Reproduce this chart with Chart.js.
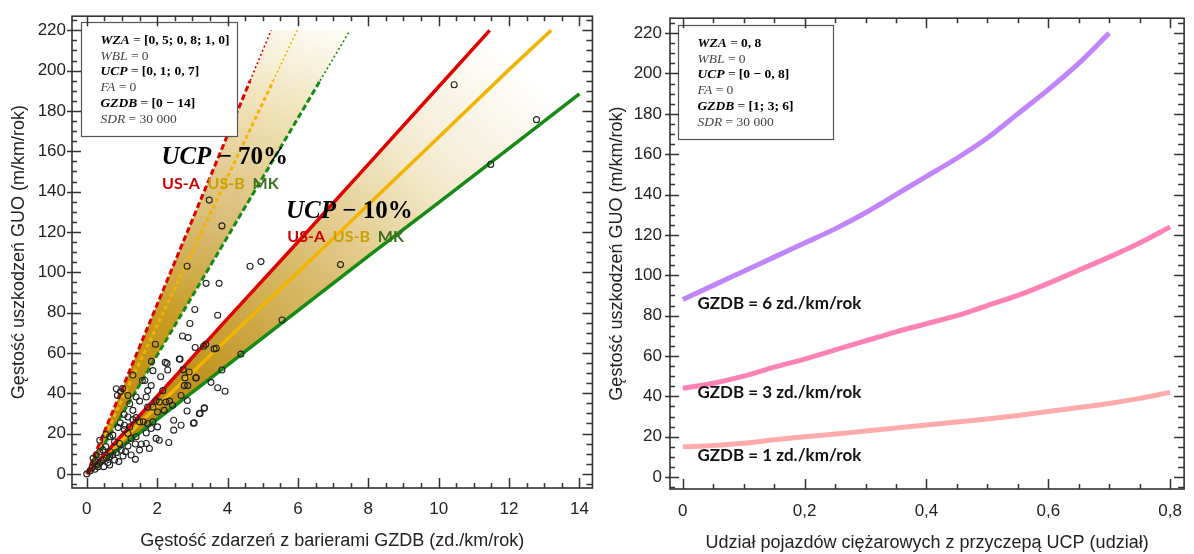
<!DOCTYPE html>
<html lang="pl">
<head>
<meta charset="UTF-8">
<title>GUO vs GZDB i UCP</title>
<script src="https://cdn.jsdelivr.net/npm/chart.js"></script>
<style>
  html, body { margin: 0; padding: 0; background: #fff; }
  #wrap { position: relative; width: 1194px; height: 554px; }
  #leftBox { position: absolute; left: 0; top: 0; width: 600px; height: 554px; }
  #rightBox { position: absolute; left: 600px; top: 0; width: 594px; height: 554px; }
</style>
</head>
<body>
<div id="wrap">
  <div id="leftBox"><canvas id="leftChart"></canvas></div>
  <div id="rightBox"><canvas id="rightChart"></canvas></div>
</div>
<script>
// ---------- left panel: GUO vs GZDB ----------
const gzdbTicks = [0, 2, 4, 6, 8, 10, 12, 14];
const guoTicks = [0, 20, 40, 60, 80, 100, 120, 140, 160, 180, 200, 220];

// UCP = 10% (solid lines), [GZDB, GUO]
const usA10 = [[0, 0], [2, 38.5], [4, 77], [6, 115], [8, 153.5], [10, 192], [11.45, 220]];
const usB10 = [[0, 0], [2, 33.5], [4, 67], [6, 100], [8, 133.5], [10, 167], [12, 200.5], [13.2, 220]];
const mk10 = [[0, 0], [2, 27], [4, 54], [6, 81], [8, 108], [10, 134.5], [12, 161.5], [14, 188.5]];

// UCP = 70% (dashed lines)
const usA70 = [[0, 0], [1, 42], [2, 84], [3, 126], [4, 168], [4.64, 195], [5.24, 220]];
const usB70 = [[0, 0], [1, 36.8], [2, 73.6], [3, 110.4], [4, 147.2], [5, 184], [5.3, 195], [5.98, 220]];
const mk70 = [[0, 0], [1, 29.4], [2, 58.8], [3, 88.2], [4, 117.6], [5, 147], [6, 176.4], [6.63, 195], [7.48, 220]];

// observed road sections
const observed = [
  [10.44, 193], [12.78, 175.7], [11.48, 153.5], [7.21, 103.8], [5.55, 76.3], [4.38, 59.4],
  [3.48, 135.8], [3.84, 123], [2.85, 103], [4.64, 103], [4.95, 105.3], [3.39, 94.5], [3.76, 94.5],
  [3.07, 81.5], [3.72, 78.7], [2.93, 74.6], [2.72, 68.4], [2.88, 67.6], [1.95, 64.3], [3.08, 62.7],
  [3.32, 63.3], [3.38, 64.3], [3.62, 62], [3.68, 62.3], [2.65, 56.9], [2.23, 55.3], [2.28, 54.8],
  [1.84, 55.8], [2.30, 51.5], [1.31, 49], [2.74, 51.7], [2.91, 50.5], [3.10, 47.6], [2.79, 47.6],
  [1.88, 51.2], [2.10, 48.2], [1.65, 46.3], [3.53, 45.4], [2.77, 43.8], [2.87, 43.8], [3.72, 42.7],
  [3.93, 41], [3.84, 51.5], [0.84, 42.2], [0.87, 38.9], [0.96, 40.8], [1.17, 38.9], [1.83, 43.8],
  [1.73, 41.3], [1.69, 38.1], [2.16, 41.3], [1.97, 36.4], [2.06, 35.6], [2.25, 35.6], [2.35, 36.1],
  [2.44, 34], [2.68, 38.9], [2.86, 36.4], [1.40, 38.1], [1.22, 34.8], [1.50, 36.1], [1.06, 29.5],
  [0.95, 25.3], [1.07, 24.1], [1.31, 26.9], [1.40, 27.9], [1.50, 25.8], [1.61, 25.8], [1.73, 24.9],
  [1.88, 25.8], [2.01, 30.7], [2.2, 31.5], [2.85, 31.2], [3.2, 29.9], [3.34, 32.8], [3.05, 25.3],
  [2.68, 24.1], [2.47, 26.6], [2.47, 21.7], [2.01, 23.3], [1.83, 22.5], [1.69, 20.3], [2.06, 16.7],
  [2.33, 15.6], [1.69, 15.1], [1.55, 14.8], [1.38, 14.8], [1.38, 7.2], [1.40, 18.4], [1.26, 17.6],
  [1.17, 20], [1.07, 22], [0.89, 23], [0.74, 19.2], [0.65, 18.4], [0.54, 19.5], [0.79, 15.9],
  [0.93, 15.1], [0.98, 11.8], [1.10, 11], [1.17, 13.8], [0.84, 10.5], [0.74, 9.4], [0.65, 8.5],
  [0.56, 7.7], [0.79, 6.9], [0.91, 6.1], [0.60, 5.6], [0.46, 6.9], [0.37, 5.6], [0.32, 3.6],
  [0.23, 2.3], [0.48, 3.6], [0.65, 4.4], [0.37, 11], [0.46, 11.8], [0.54, 13.5], [0.27, 9.4],
  [0.18, 7.7], [0.67, 11], [1.03, 8.9], [1.26, 9.4], [1.50, 11.8], [1.78, 12.6], [1.97, 17.6],
  [1.17, 28.2], [1.31, 31.5], [1.73, 33.1], [1.88, 33.1], [1.22, 23.3], [0.37, 16.7], [0.23, 6.1],
  [3.34, 32.5], [3.22, 30], [3.03, 25.1], [3.11, 47.7], [1.02, 42.3], [1.58, 46.3], [2.63, 57],
  [0, 0], [0.1, 1.5], [0.15, 3], [0.3, 4.5]
];

// ---------- right panel: GUO vs UCP ----------
const ucpTicks = [0, 0.2, 0.4, 0.6, 0.8];
const ucpShare = [0, 0.05, 0.1, 0.15, 0.2, 0.25, 0.3, 0.35, 0.4, 0.45, 0.5, 0.55, 0.6, 0.65, 0.7, 0.75, 0.8];
const guoGzdb6 = [88, 95, 102, 109, 116, 123, 131, 140, 149, 158, 168, 180, 192, 205, 220];
const guoGzdb3 = [44, 46.5, 50, 54.5, 58.5, 63, 67.5, 72, 76, 80, 85, 90, 96, 102.5, 109, 116, 124];
const guoGzdb1 = [15, 15.7, 16.8, 18.5, 20, 21.3, 22.8, 24.3, 25.8, 27.3, 28.8, 30.5, 32.5, 34.5, 36.5, 39, 42];

// text in the parameter boxes
const leftParams = [
  [['WZA', 'bi'], [' = ', 'n'], ['[0, 5; 0, 8; 1, 0]', 'b']],
  [['WBL', 'i'], [' = 0', 'n']],
  [['UCP', 'bi'], [' = ', 'n'], ['[0, 1; 0, 7]', 'b']],
  [['FA', 'i'], [' = 0', 'n']],
  [['GZDB', 'bi'], [' = ', 'n'], ['[0 − 14]', 'b']],
  [['SDR', 'i'], [' = 30 000', 'n']]
];
const rightParams = [
  [['WZA', 'bi'], [' = ', 'n'], ['0, 8', 'b']],
  [['WBL', 'i'], [' = 0', 'n']],
  [['UCP', 'bi'], [' = ', 'n'], ['[0 − 0, 8]', 'b']],
  [['FA', 'i'], [' = 0', 'n']],
  [['GZDB', 'bi'], [' = ', 'n'], ['[1; 3; 6]', 'b']],
  [['SDR', 'i'], [' = 30 000', 'n']]
];

const RED = '#e00000', GOLD = '#f2b400', GREEN = '#158a15';
const AXIS_FONT = 'Liberation Sans';
const MATH_FONT = 'Liberation Serif';

function mathFont(style, size) {
  if (style === 'bi') return `italic bold ${size}px "${MATH_FONT}"`;
  if (style === 'i') return `italic ${size}px "${MATH_FONT}"`;
  if (style === 'b') return `bold ${size}px "${MATH_FONT}"`;
  return `${size}px "${MATH_FONT}"`;
}

// box around the plot with inward ticks on all sides
const framePlugin = {
  id: 'frame',
  afterDraw(chart, args, o) {
    const { ctx, chartArea: a, scales: { x, y } } = chart;
    ctx.save();
    ctx.strokeStyle = '#333';
    ctx.lineWidth = 1.5;
    ctx.beginPath();
    const ratioX = Math.round(o.xMajor / o.xMinor), ratioY = Math.round(o.yMajor / o.yMinor);
    for (let i = Math.ceil(x.min / o.xMinor); i * o.xMinor <= x.max + 1e-9; i++) {
      const px = Math.round(x.getPixelForValue(i * o.xMinor)) + 0.5;
      const major = i % ratioX === 0;
      ctx.moveTo(px, a.bottom); ctx.lineTo(px, a.bottom - (major ? 10 : 5));
      ctx.moveTo(px, a.top); ctx.lineTo(px, a.top + (major ? 10 : 5));
    }
    for (let i = Math.ceil(y.min / o.yMinor); i * o.yMinor <= y.max + 1e-9; i++) {
      const py = Math.round(y.getPixelForValue(i * o.yMinor)) + 0.5;
      const major = i % ratioY === 0;
      ctx.moveTo(a.left - (major ? 5 : 0), py); ctx.lineTo(a.left + (major ? 9 : 5), py);
      ctx.moveTo(a.right, py); ctx.lineTo(a.right - (major ? 10 : 6), py);
    }
    ctx.stroke();
    ctx.lineWidth = 1.6;
    ctx.strokeRect(a.left, a.top, a.right - a.left, a.bottom - a.top);
    ctx.restore();
  }
};

// shaded band between two line datasets, polygon made of their points
const bandPlugin = {
  id: 'bands',
  beforeDatasetsDraw(chart, args, o) {
    const { ctx, chartArea: a, scales: { x, y } } = chart;
    ctx.save();
    ctx.beginPath();
    ctx.rect(a.left, a.top, a.right - a.left, a.bottom - a.top);
    ctx.clip();
    (o.list || []).forEach(b => {
      const up = chart.getDatasetMeta(b.upper).data;
      const low = chart.getDatasetMeta(b.lower).data;
      const g = ctx.createLinearGradient(
        x.getPixelForValue(b.from[0]), y.getPixelForValue(b.from[1]),
        x.getPixelForValue(b.to[0]), y.getPixelForValue(b.to[1]));
      b.stops.forEach(s => g.addColorStop(s[0], s[1]));
      ctx.beginPath();
      up.forEach((p, i) => i ? ctx.lineTo(p.x, p.y) : ctx.moveTo(p.x, p.y));
      for (let i = low.length - 1; i >= 0; i--) ctx.lineTo(low[i].x, low[i].y);
      ctx.closePath();
      ctx.fillStyle = g;
      ctx.fill();
    });
    ctx.restore();
  }
};

// parameter box and text labels placed at data coordinates
const notesPlugin = {
  id: 'notes',
  afterDatasetsDraw(chart, args, o) {
    const { ctx, scales: { x, y } } = chart;
    ctx.save();
    ctx.textBaseline = 'middle';
    if (o.box) {
      const x0 = Math.round(x.getPixelForValue(o.box.from[0])) + 0.5;
      const y0 = Math.round(y.getPixelForValue(o.box.from[1])) + 0.5;
      const x1 = Math.round(x.getPixelForValue(o.box.to[0])) + 0.5;
      const y1 = Math.round(y.getPixelForValue(o.box.to[1])) + 0.5;
      ctx.fillStyle = '#fff';
      ctx.fillRect(x0, y0, x1 - x0, y1 - y0);
      ctx.strokeStyle = '#555';
      ctx.lineWidth = 1.2;
      ctx.strokeRect(x0, y0, x1 - x0, y1 - y0);
      o.box.lines.forEach((parts, i) => {
        let tx = x0 + 19;
        const ty = y0 + 18 + i * 15.7;
        parts.forEach(([t, s]) => {
          ctx.font = mathFont(s, 13.5);
          ctx.fillStyle = parts[0][1] === 'bi' ? '#000' : '#444';
          ctx.fillText(t, tx, ty);
          tx += ctx.measureText(t).width;
        });
      });
    }
    (o.labels || []).forEach(l => {
      let tx = x.getPixelForValue(l.at[0]);
      const ty = y.getPixelForValue(l.at[1]);
      l.parts.forEach(([t, font, color]) => {
        ctx.font = font;
        ctx.fillStyle = color;
        ctx.fillText(t, tx, ty);
        tx += ctx.measureText(t).width;
      });
    });
    ctx.restore();
  }
};

function axisOpts(min, max, tickValues, fmt, titleText, titlePad, size, pad) {
  return {
    type: 'linear', min: min, max: max,
    grid: { display: false, drawTicks: false },
    border: { display: false },
    afterBuildTicks: s => { s.ticks = tickValues.map(v => ({ value: v })); },
    afterFit: s => { if (s.isHorizontal()) s.height = size; else s.width = size; },
    ticks: {
      padding: pad, color: '#222', autoSkip: false, maxRotation: 0,
      font: { family: AXIS_FONT, size: 17 },
      callback: fmt
    },
    title: {
      display: true, text: titleText, color: '#222',
      font: { family: AXIS_FONT, size: 18 }, padding: titlePad
    }
  };
}

const pairs = arr => arr.map(p => ({ x: p[0], y: p[1] }));

const thinTop = {
  borderWidth: c => c.p0.parsed.y >= 194 ? 1.6 : undefined,
  borderDash: c => c.p0.parsed.y >= 194 ? [2, 2.5] : undefined
};

function bandLine(label, data, color, opts) {
  return Object.assign({
    label: label, data: pairs(data), showLine: true, borderColor: color,
    borderWidth: 3.5, pointRadius: 0, fill: false, order: 1, tension: 0
  }, opts || {});
}

const LABEL_FONT = 'bold 16px Lato';
const UCP_BI = `italic bold 25px "${MATH_FONT}"`, UCP_B = `bold 25px "${MATH_FONT}"`;

new Chart(document.getElementById('leftChart'), {
  type: 'scatter',
  data: {
    datasets: [
      bandLine('US-A 10%', usA10, RED),
      bandLine('US-B 10%', usB10, GOLD),
      bandLine('MK 10%', mk10, GREEN),
      bandLine('US-A 70%', usA70, RED, { borderDash: [6, 3], borderWidth: 3, segment: thinTop }),
      bandLine('US-B 70%', usB70, GOLD, { borderDash: [4, 3], borderWidth: 3, segment: thinTop }),
      bandLine('MK 70%', mk70, GREEN, { borderDash: [6, 3], borderWidth: 3, segment: thinTop }),
      {
        label: 'odcinki', data: pairs(observed), order: 0,
        pointRadius: 3, pointBorderWidth: 1.1, borderColor: '#222',
        backgroundColor: 'rgba(0,0,0,0)'
      }
    ]
  },
  options: {
    responsive: true, maintainAspectRatio: false, animation: false,
    layout: { padding: { left: 0, top: 13, right: 5, bottom: 0 } },
    scales: {
      x: axisOpts(-0.42, 14.37, gzdbTicks, v => String(v),
        'Gęstość zdarzeń z barierami GZDB (zd./km/rok)', { top: 0, bottom: 2 }, 66, 11),
      y: axisOpts(-7, 227, guoTicks, v => String(v),
        'Gęstość uszkodzeń GUO (m/km/rok)', { top: 8, bottom: 0 }, 72, 6)
    },
    plugins: {
      legend: { display: false },
      tooltip: { enabled: false },
      bands: {
        list: [
          { upper: 0, lower: 2, from: [0.5, 0], to: [11.8, 212], stops: [
            [0, 'rgb(176,126,0)'], [0.25, 'rgb(194,150,36)'], [0.5, 'rgb(218,190,112)'],
            [0.75, 'rgb(243,233,205)'], [1, 'rgb(255,255,255)']] },
          { upper: 3, lower: 5, from: [0.3, 0], to: [4.8, 228], stops: [
            [0, 'rgb(180,130,0)'], [0.35, 'rgb(200,156,34)'], [0.55, 'rgb(216,186,112)'],
            [0.8, 'rgb(238,223,178)'], [1, 'rgb(252,249,238)']] }
        ]
      },
      frame: { xMinor: 0.5, xMajor: 2, yMinor: 5, yMajor: 20 },
      notes: {
        box: { from: [-0.17, 224], to: [4.27, 167.8], lines: leftParams },
        labels: [
          { at: [2.12, 157], parts: [['UCP', UCP_BI, '#000'], [' − 70%', UCP_B, '#000']] },
          { at: [2.14, 144], parts: [['US-A  ', LABEL_FONT, '#cc0000'], ['US-B  ', LABEL_FONT, '#c9a000'], ['MK', LABEL_FONT, '#3f6e1e']] },
          { at: [5.66, 130], parts: [['UCP', UCP_BI, '#000'], [' − 10%', UCP_B, '#000']] },
          { at: [5.7, 117.6], parts: [['US-A  ', LABEL_FONT, '#cc0000'], ['US-B  ', LABEL_FONT, '#c9a000'], ['MK', LABEL_FONT, '#3f6e1e']] }
        ]
      }
    }
  },
  plugins: [bandPlugin, framePlugin, notesPlugin]
});

const curve = vals => vals.map((v, i) => ({ x: ucpShare[i], y: v }));
const decimalComma = v => String(v).replace('.', ',');
const GZDB_FONT = 'bold 17px Lato';

new Chart(document.getElementById('rightChart'), {
  type: 'scatter',
  data: {
    datasets: [
      { label: 'GZDB = 6', data: curve(guoGzdb6), showLine: true, borderColor: '#c184fb', borderWidth: 5, pointRadius: 0, tension: 0.3 },
      { label: 'GZDB = 3', data: curve(guoGzdb3), showLine: true, borderColor: '#ff82b6', borderWidth: 5, pointRadius: 0, tension: 0.3 },
      { label: 'GZDB = 1', data: curve(guoGzdb1), showLine: true, borderColor: '#ffaaab', borderWidth: 5, pointRadius: 0, tension: 0.3 }
    ]
  },
  options: {
    responsive: true, maintainAspectRatio: false, animation: false,
    layout: { padding: { left: 0, top: 14, right: 3, bottom: 0 } },
    scales: {
      x: axisOpts(-0.021, 0.823, ucpTicks, decimalComma,
        'Udział pojazdów ciężarowych z przyczepą UCP (udział)', { top: 0, bottom: 0 }, 65, 12),
      y: axisOpts(-5.9, 227.4, guoTicks, v => String(v),
        'Gęstość uszkodzeń GUO (m/km/rok)', { top: 6, bottom: 0 }, 70, 8)
    },
    plugins: {
      legend: { display: false },
      tooltip: { enabled: false },
      frame: { xMinor: 0.05, xMajor: 0.2, yMinor: 5, yMajor: 20 },
      notes: {
        box: { from: [-0.008, 224], to: [0.246, 167.5], lines: rightParams },
        labels: [
          { at: [0.024, 86], parts: [['GZDB = 6 zd./km/rok', GZDB_FONT, '#111']] },
          { at: [0.024, 41.7], parts: [['GZDB = 3 zd./km/rok', GZDB_FONT, '#111']] },
          { at: [0.024, 10.8], parts: [['GZDB = 1 zd./km/rok', GZDB_FONT, '#111']] }
        ]
      }
    }
  },
  plugins: [framePlugin, notesPlugin]
});
</script>
</body>
</html>
